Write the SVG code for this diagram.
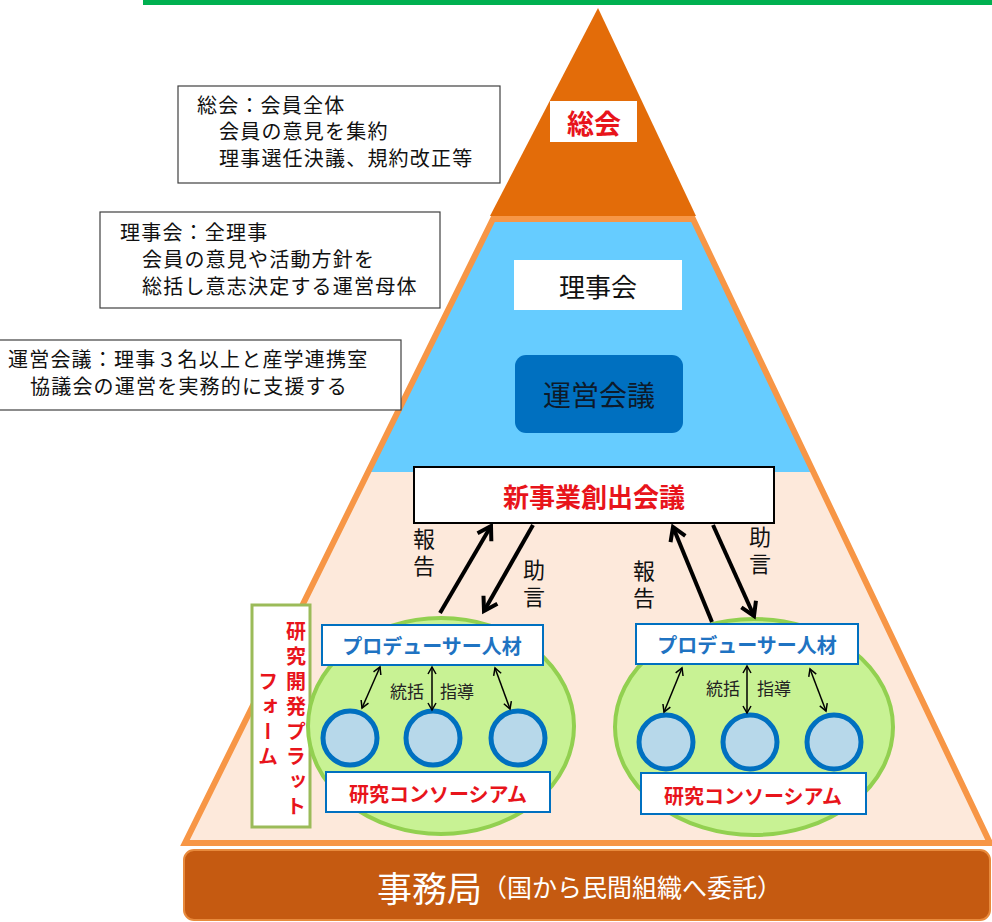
<svg xmlns="http://www.w3.org/2000/svg" width="992" height="922" viewBox="0 0 992 922">
<style>
text{font-family:"Noto Sans CJK JP","Noto Sans CJK SC",sans-serif;dominant-baseline:central}
.note{fill:#fff;stroke:#404040;stroke-width:1.2}
.nt{font-size:20px;letter-spacing:1.2px;fill:#111}
.prod{fill:#fff;stroke:#0070C0;stroke-width:2}
.pt{font-size:20px;font-weight:bold;fill:#1F73C2;text-anchor:middle}
.ct{font-size:20px;font-weight:bold;fill:#E8141B;text-anchor:middle}
.circ{fill:#B7D8EA;stroke:#0070C0;stroke-width:5}
.ell{fill:#C8F294;stroke:#92D050;stroke-width:4}
.big{stroke:#000;stroke-width:4;fill:none}
.thin{stroke:#000;stroke-width:1.5;fill:none}
.lbl{font-size:22px;fill:#111;writing-mode:vertical-rl;letter-spacing:5px}
.sl{font-size:17px;fill:#222;text-anchor:middle}
.vt{font-size:20px;font-weight:bold;fill:#E8141B;writing-mode:vertical-rl;letter-spacing:5px}
</style>
<defs>
<marker id="ah" markerUnits="userSpaceOnUse" markerWidth="40" markerHeight="40" viewBox="-20 -20 40 40" refX="0" refY="0" orient="auto">
<path d="M-13,-8 L0,0 L-13,8" fill="none" stroke="#000" stroke-width="4" stroke-linejoin="miter"/>
</marker>
<marker id="sh" markerUnits="userSpaceOnUse" markerWidth="20" markerHeight="20" viewBox="-10 -10 20 20" refX="0" refY="0" orient="auto-start-reverse">
<path d="M-7,-4 L0,0 L-7,4" fill="none" stroke="#000" stroke-width="1.5"/>
</marker>
</defs>
<rect width="992" height="922" fill="#fff"/>
<rect x="143" y="0" width="849" height="5" fill="#00B050"/>

<g id="pyramid">
<polygon points="493,219 693,219 990,843 185,843" fill="#FDE9DB"/>
<polygon points="493,219 693,219 813,472 368,472" fill="#66CCFF"/>
<polygon points="493,219 693,219 990,843 185,843" fill="none" stroke="#F79646" stroke-width="6"/>
<polygon points="598,8 490,216 696,216" fill="#E36C09"/>
</g>

<g id="note-soukai">
<rect class="note" x="178" y="86" width="322" height="97"/>
<text class="nt" x="197" y="104">総会：会員全体</text>
<text class="nt" x="219" y="130">会員の意見を集約</text>
<text class="nt" x="219" y="157">理事選任決議、規約改正等</text>
</g>
<g id="note-rijikai">
<rect class="note" x="100" y="212" width="340" height="96"/>
<text class="nt" x="120" y="231">理事会：全理事</text>
<text class="nt" x="142" y="258">会員の意見や活動方針を</text>
<text class="nt" x="142" y="285">総括し意志決定する運営母体</text>
</g>
<g id="note-unei">
<rect class="note" x="-2" y="340" width="403" height="70"/>
<text class="nt" x="8" y="358">運営会議：理事３名以上と産学連携室</text>
<text class="nt" x="30" y="385">協議会の運営を実務的に支援する</text>
</g>

<g id="soukai">
<rect x="550" y="101" width="87" height="41" fill="#fff"/>
<text x="594" y="122" font-size="27" font-weight="bold" fill="#E8141B" text-anchor="middle">総会</text>
</g>
<g id="rijikai">
<rect x="514" y="260" width="168" height="50" fill="#fff"/>
<text x="598" y="285" font-size="26" fill="#111" text-anchor="middle">理事会</text>
</g>
<g id="uneikaigi">
<rect x="515" y="355" width="168" height="78" rx="11" fill="#0070C0"/>
<text x="599" y="394" font-size="28" fill="#0d1a2a" text-anchor="middle">運営会議</text>
</g>
<g id="shinjigyo">
<rect x="414" y="467" width="360" height="56" fill="#fff" stroke="#000" stroke-width="2"/>
<text x="594" y="495" font-size="26" font-weight="bold" fill="#E8141B" text-anchor="middle">新事業創出会議</text>
</g>

<g id="platform">
<rect x="252" y="605" width="58" height="222" fill="#fff" stroke="#9BBB59" stroke-width="3"/>
<text class="vt" x="296" y="621">研究開発プラット</text>
<text class="vt" x="268" y="671">フォーム</text>
</g>

<g id="consortium-left">
<ellipse class="ell" cx="441" cy="726" rx="133" ry="108"/>
<rect class="prod" x="322" y="625" width="221" height="40"/>
<text class="pt" x="432" y="645">プロデューサー人材</text>
<circle class="circ" cx="350" cy="738" r="27"/>
<circle class="circ" cx="433" cy="738" r="27"/>
<circle class="circ" cx="518" cy="738" r="27"/>
<rect class="prod" x="326" y="772" width="224" height="40"/>
<text class="ct" x="438" y="793">研究コンソーシアム</text>
<text class="sl" x="407" y="690">統括</text>
<text class="sl" x="457" y="690">指導</text>
</g>

<g id="consortium-right">
<ellipse class="ell" cx="754" cy="727" rx="139" ry="108"/>
<rect class="prod" x="636" y="624" width="222" height="40"/>
<text class="pt" x="747" y="644">プロデューサー人材</text>
<circle class="circ" cx="666" cy="742" r="27"/>
<circle class="circ" cx="750" cy="742" r="27"/>
<circle class="circ" cx="834" cy="742" r="27"/>
<rect class="prod" x="641" y="773" width="225" height="41"/>
<text class="ct" x="753" y="795">研究コンソーシアム</text>
<text class="sl" x="723" y="687">統括</text>
<text class="sl" x="774" y="687">指導</text>
</g>

<g id="connectors">
<line class="big" x1="440" y1="613" x2="491" y2="526" marker-end="url(#ah)"/>
<line class="big" x1="533" y1="525" x2="484" y2="611" marker-end="url(#ah)"/>
<line class="big" x1="712" y1="622" x2="673" y2="527" marker-end="url(#ah)"/>
<line class="big" x1="713" y1="525" x2="754" y2="616" marker-end="url(#ah)"/>
<line class="thin" x1="380" y1="667" x2="362" y2="708" marker-start="url(#sh)" marker-end="url(#sh)"/>
<line class="thin" x1="432" y1="667" x2="432" y2="710" marker-start="url(#sh)" marker-end="url(#sh)"/>
<line class="thin" x1="495" y1="668" x2="510" y2="709" marker-start="url(#sh)" marker-end="url(#sh)"/>
<line class="thin" x1="682" y1="668" x2="664" y2="712" marker-start="url(#sh)" marker-end="url(#sh)"/>
<line class="thin" x1="747" y1="666" x2="747" y2="713" marker-start="url(#sh)" marker-end="url(#sh)"/>
<line class="thin" x1="810" y1="669" x2="826" y2="711" marker-start="url(#sh)" marker-end="url(#sh)"/>
</g>

<g id="labels">
<text class="lbl" x="424" y="528">報告</text>
<text class="lbl" x="534" y="559">助言</text>
<text class="lbl" x="644" y="560">報告</text>
<text class="lbl" x="760" y="526">助言</text>
</g>

<g id="jimukyoku">
<rect x="184" y="850" width="806" height="70" rx="10" fill="#C55A11" stroke="#E88A3C" stroke-width="2"/>
<text x="377" y="886" font-size="35" fill="#fff">事務局<tspan font-size="25">（国から民間組織へ委託）</tspan></text>
</g>
</svg>
